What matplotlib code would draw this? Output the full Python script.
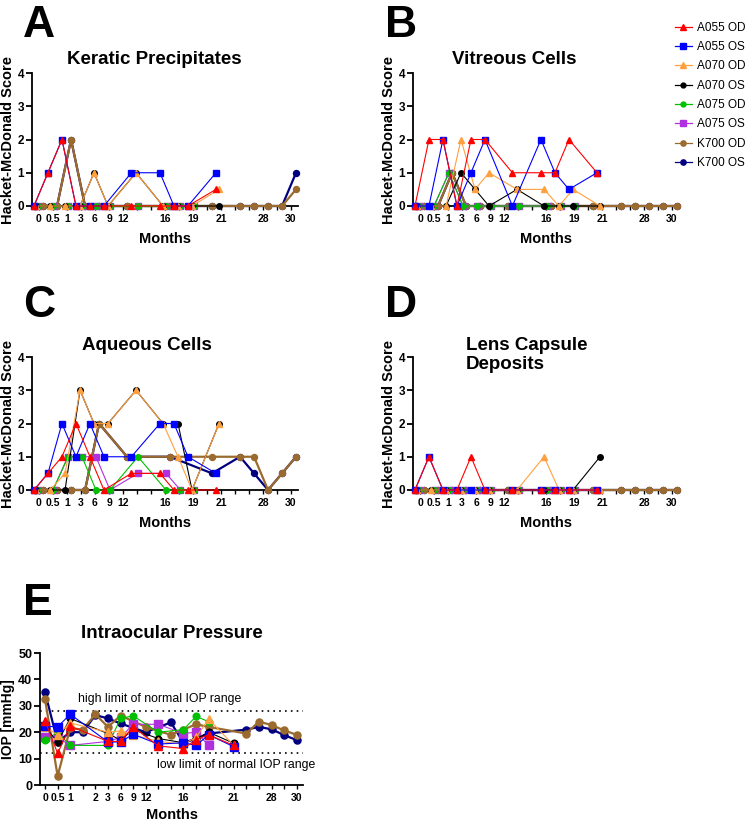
import numpy as np
import matplotlib
matplotlib.use("Agg")
import matplotlib.pyplot as plt

plt.rcParams['font.family'] = ['Liberation Sans', 'DejaVu Sans']

# visit positions on the score panels (in tick-slot units)
a055_x = [-0.36, 0.64, 1.64, 2.64, 3.64, 4.64, 6.6, 8.64, 9.64, 10.64, 12.64]
a070_x = [-0.2, 0.8, 1.86, 2.93, 3.93, 4.93, 6.93, 8.86, 9.93, 10.93, 12.86]
a075_x = [-0.1, 1.0, 2.07, 3.07, 4.07, 5.07, 7.07, 9.07, 10.1, 11.07]
k700_x = [-0.3, 0.29, 1.29, 2.29, 3.29, 4.29, 6.29, 9.36, 12.36, 14.36, 15.36, 16.36, 17.36, 18.36]

score_tick_pos = [0, 1, 2, 3, 4, 5, 6, 9, 11, 13, 16, 18]
score_tick_lab = ["0", "0.5", "1", "3", "6", "9", "12", "16", "19", "21", "28", "30"]

# A - keratic precipitates
kp_a055_od = [0, 1, 2, 0, 0, 0, 0, 0, 0, 0, 0.5]
kp_a055_os = [0, 1, 2, 0, 0, 0, 1, 1, 0, 0, 1]
kp_a070_od = [0, 0, 0, 0, 1, 0, 1, 0, 0, 0, 0.5]
kp_a070_os = [0, 0, 0, 0, 1, 0, 1, 0, 0, 0, 0]
kp_a075_od = [0, 0, 0, 0, 0, 0, 0, 0, 0, 0]
kp_a075_os = [0, 0, 0, 0, 0, 0, 0, 0, 0, 0]
kp_k700_od = [0, 0, 0, 2, 0, 0, 0, 0, 0, 0, 0, 0, 0, 0.5]
kp_k700_os = [0, 0, 0, 2, 0, 0, 0, 0, 0, 0, 0, 0, 0, 1]

# B - vitreous cells
vc_a055_od = [0, 2, 2, 0, 2, 2, 1, 1, 1, 2, 1]
vc_a055_os = [0, 0, 2, 0, 1, 2, 0, 2, 1, 0.5, 1]
vc_a070_od = [0, 0, 0, 2, 0.5, 1, 0.5, 0.5, 0, 0.5, 0]
vc_a070_os = [0, 0, 0, 1, 0.5, 0, 0.5, 0, 0, 0, 0]
vc_a075_od = [0, 0, 1, 0, 0, 0, 0, 0, 0, 0]
vc_a075_os = [0, 0, 1, 0, 0, 0, 0, 0, 0, 0]
vc_k700_od = [0, 0, 0, 1, 0, 0, 0, 0, 0, 0, 0, 0, 0, 0]
vc_k700_os = [0, 0, 0, 1, 0, 0, 0, 0, 0, 0, 0, 0, 0, 0]

# C - aqueous cells
ac_a055_od = [0, 0.5, 1, 2, 1, 0, 0.5, 0.5, 0, 0, 0]
ac_a055_os = [0, 0.5, 2, 1, 2, 1, 1, 2, 2, 1, 0.5]
ac_a070_od = [0, 0, 0.5, 3, 2, 2, 3, 2, 1, 0, 2]
ac_a070_os = [0, 0, 0, 3, 2, 2, 3, 2, 2, 0, 2]
ac_a075_od = [0, 0, 1, 1, 0, 0, 1, 0, 0, 0]
ac_a075_os = [0, 0, 1, 1, 1, 0, 0.5, 0.5, 0, 0]
ac_k700_od = [0, 0, 0, 0, 0, 2, 1, 1, 1, 1, 1, 0, 0.5, 1]
ac_k700_os = [0, 0, 0, 0, 0, 2, 1, 1, 0.5, 1, 0.5, 0, 0.5, 1]

# D - lens capsule deposits
lc_a055_od = [0, 1, 0, 0, 1, 0, 0, 0, 0, 0, 0]
lc_a055_os = [0, 1, 0, 0, 0, 0, 0, 0, 0, 0, 0]
lc_a070_od = [0, 0, 0, 0, 0, 0, 0, 1, 0, 0, 0]
lc_a070_os = [0, 0, 0, 0, 0, 0, 0, 0, 0, 0, 1]
lc_a075_od = [0, 0, 0, 0, 0, 0, 0, 0, 0, 0]
lc_a075_os = [0, 0, 0, 0, 0, 0, 0, 0, 0, 0]
lc_k700_od = [0, 0, 0, 0, 0, 0, 0, 0, 0, 0, 0, 0, 0, 0]
lc_k700_os = [0, 0, 0, 0, 0, 0, 0, 0, 0, 0, 0, 0, 0, 0]

# E - intraocular pressure (visit slots 0..20)
iop_tick_pos = [0, 1, 2, 4, 5, 6, 7, 8, 11, 15, 18, 20]
iop_tick_lab = ["0", "0.5", "1", "2", "3", "6", "9", "12", "16", "21", "28", "30"]
e_a_x = [0, 1, 2, 5, 6, 7, 9, 11, 12, 13, 15]
e_a075_x = [0, 1, 2, 5, 6, 7, 9, 11, 12, 13]
e_k700_x = [0, 1, 2, 3, 4, 5, 6, 8, 10, 11, 12, 13, 16, 17, 18, 19, 20]
iop_a055_od = [24.3, 12, 22.3, 16.5, 16.5, 22, 14.8, 13.8, 17.2, 19, 15]
iop_a055_os = [22.3, 22, 26.8, 16.3, 16.3, 19.2, 15.5, 16, 15, 19, 14.5]
iop_a070_od = [22, 19, 23.5, 20, 20.5, 19, 16.5, 15.5, 18, 25, 15]
iop_a070_os = [22, 16.3, 25.2, 19.5, 17, 21, 17.6, 16, 17.5, 20, 15.8]
iop_a075_od = [17, 19.9, 15, 15, 25.2, 26.2, 20, 21, 26, 24]
iop_a075_os = [18.2, 18, 15, 16.5, 18, 23, 23, 19.5, 20, 15]
iop_k700_od = [32.5, 3.4, 21.5, 21, 26.8, 22, 26.3, 22, 19, 21, 23, 22, 19.5, 24, 22.7, 20.7, 19]
iop_k700_os = [35.2, 16.3, 20, 20, 26.5, 25.2, 23.3, 20, 23.7, 16, 17.5, 19.5, 21, 22, 21.1, 18.9, 17]

names = ["A055 OD", "A055 OS", "A070 OD", "A070 OS", "A075 OD", "A075 OS", "K700 OD", "K700 OS"]
colors = ["#ff0000", "#0000ff", "#ffa040", "#000000", "#00c000", "#b030e0", "#9a6a2e", "#000080"]
markers = ["^", "s", "^", "o", "o", "s", "o", "o"]
msizes = [4.3, 5.0, 4.3, 4.0, 4.0, 5.0, 4.3, 4.3]
lwidths = [0.8, 0.8, 0.8, 0.8, 0.8, 0.8, 1.6, 1.6]

score_x = [a055_x, a055_x, a070_x, a070_x, a075_x, a075_x, k700_x, k700_x]
iop_x = [e_a_x, e_a_x, e_a_x, e_a_x, e_a075_x, e_a075_x, e_k700_x, e_k700_x]

panels = [
    ("A", "Keratic Precipitates", [kp_a055_od, kp_a055_os, kp_a070_od, kp_a070_os, kp_a075_od, kp_a075_os, kp_k700_od, kp_k700_os]),
    ("B", "Vitreous Cells", [vc_a055_od, vc_a055_os, vc_a070_od, vc_a070_os, vc_a075_od, vc_a075_os, vc_k700_od, vc_k700_os]),
    ("C", "Aqueous Cells", [ac_a055_od, ac_a055_os, ac_a070_od, ac_a070_os, ac_a075_od, ac_a075_os, ac_k700_od, ac_k700_os]),
    ("D", "Lens Capsule\nDeposits", [lc_a055_od, lc_a055_os, lc_a070_od, lc_a070_os, lc_a075_od, lc_a075_os, lc_k700_od, lc_k700_os]),
]

W, H = 750, 823
fig = plt.figure(figsize=(7.5, 8.23), dpi=100)


def rect(l, t, r, b):
    return [l / W, 1 - b / H, (r - l) / W, (b - t) / H]


def ftext(x, y, s, **kw):
    fig.text(x / W, 1 - y / H, s, **kw)


def style_axis(ax, ysize=8.5):
    for s in ["top", "right"]:
        ax.spines[s].set_visible(False)
    for s in ["left", "bottom"]:
        ax.spines[s].set_linewidth(1.3)
    ax.tick_params(axis="y", direction="out", length=4, width=1.3, pad=1.5, labelsize=ysize)
    ax.tick_params(axis="x", which="both", direction="out", length=3, width=1.0, pad=2.5, labelsize=7.5)
    for lab in ax.get_xticklabels() + ax.get_yticklabels():
        lab.set_fontweight("bold")


# layout: (left, top, right, bottom) px, letter xy, title xy, title alignment
layout = [
    ((32, 73, 298, 206), (23, 37), (154, 60), "center"),
    ((413, 73, 679, 206), (385, 37), (514, 60), "center"),
    ((32, 357, 298, 490), (23, 317), (147, 345), "center"),
    ((413, 357, 679, 490), (385, 317), (466, 355), "left"),
]

for (letter, title, series), (box, lxy, txy, tha) in zip(panels, layout):
    ax = fig.add_axes(rect(*box))
    for i in range(8):
        ax.plot(score_x[i], series[i], color=colors[i], marker=markers[i], ms=msizes[i],
                lw=lwidths[i], mec=colors[i], clip_on=False, zorder=12 - i)
    ax.set_xlim(-0.5, 18.5)
    ax.set_ylim(0, 4)
    ax.set_yticks([0, 1, 2, 3, 4])
    ax.set_xticks(score_tick_pos)
    ax.set_xticklabels(score_tick_lab)
    ax.set_xticks(range(19), minor=True)
    style_axis(ax)
    ftext(lxy[0], lxy[1], letter, fontsize=32, fontweight="bold", va="baseline")
    ftext(txy[0], txy[1], title, fontsize=13.5, fontweight="bold", ha=tha, va="center",
          linespacing=1.2)
    ftext(box[0] - 24, (box[1] + box[3]) / 2, "Hacket-McDonald Score", rotation=90,
          fontsize=10.5, fontweight="bold", ha="center", va="center")
    ftext((box[0] + box[2]) / 2, box[3] + 33, "Months", fontsize=10.5, fontweight="bold",
          ha="center", va="center")

# panel E
box = (40, 653, 303, 785)
ax = fig.add_axes(rect(*box))
ivals = [iop_a055_od, iop_a055_os, iop_a070_od, iop_a070_os, iop_a075_od, iop_a075_os,
         iop_k700_od, iop_k700_os]
for i in range(8):
    ax.plot(iop_x[i], ivals[i], color=colors[i], marker=markers[i], ms=msizes[i] + 0.8,
            lw=lwidths[i], mec=colors[i], clip_on=False, zorder=12 - i, label=names[i])
ax.axhline(28, color="black", ls=(0, (1, 2.5)), lw=1.2, zorder=1)
ax.axhline(12, color="black", ls=(0, (1, 2.5)), lw=1.2, zorder=1)
ax.text(2.6, 32.5, "high limit of normal IOP range", fontsize=8.8, va="center")
ax.text(8.9, 7.5, "low limit of normal IOP range", fontsize=8.8, va="center")
ax.set_xlim(-0.4, 20.5)
ax.set_ylim(0, 50)
ax.set_yticks([0, 10, 20, 30, 40, 50])
ax.set_xticks(iop_tick_pos)
ax.set_xticklabels(iop_tick_lab)
ax.set_xticks(range(21), minor=True)
style_axis(ax, ysize=9)
ftext(23, 615, "E", fontsize=32, fontweight="bold", va="baseline")
ftext(172, 633, "Intraocular Pressure", fontsize=13.5, fontweight="bold", ha="center", va="center")
ftext(8, 719, "IOP [mmHg]", rotation=90, fontsize=10, fontweight="bold", ha="center", va="center")
ftext(172, 815, "Months", fontsize=10.5, fontweight="bold", ha="center", va="center")

# legend (top right)
hands = []
for i in range(8):
    h, = plt.plot([], [], color=colors[i], marker=markers[i], ms=msizes[i] - 0.5, lw=0.9, mec=colors[i])
    hands.append(h)
fig.legend(hands, names, loc="upper left", bbox_to_anchor=(670 / W, 1 - 17 / H), frameon=False,
           fontsize=8.5, handlelength=1.45, handletextpad=0.42, labelspacing=0.62, borderaxespad=0)

fig.savefig("out.png", dpi=100)
